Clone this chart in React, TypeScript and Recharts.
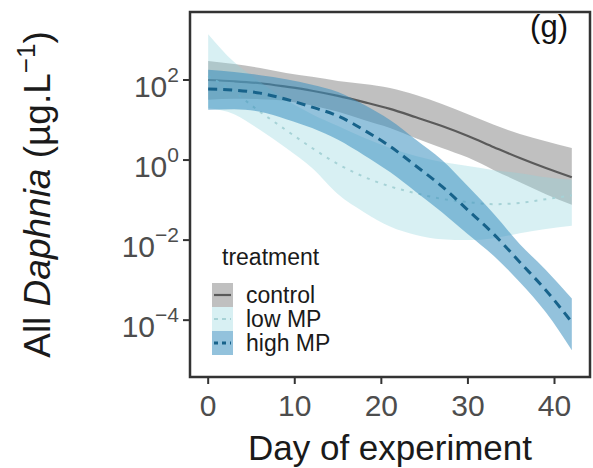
import React from 'react';
import { ComposedChart, Area, Line, XAxis, YAxis, ReferenceArea, Legend } from 'recharts';

const FONT = '"Liberation Sans", Arial, Helvetica, sans-serif';

// sampling days (every 3 days over the experiment)
const days = [0, 3, 6, 9, 12, 15, 18, 21, 24, 27, 30, 33, 36, 39, 42];

// fitted abundance (µg/L) with confidence band, per treatment
const controlFit = [100, 93, 83, 68, 54, 40, 28, 19, 11.7, 7.1, 4.0, 2.1, 1.12, 0.63, 0.37];
const controlHi = [300, 250, 200, 150, 120, 95, 79, 63, 42, 25, 14, 7.6, 4.5, 2.95, 2.0];
const controlLo = [32, 34, 33, 30, 23, 16, 10, 6.3, 3.5, 2.0, 1.15, 0.56, 0.28, 0.14, 0.076];

const lowFit = [125, 50, 16, 5.6, 2.0, 0.79, 0.38, 0.22, 0.148, 0.107, 0.089, 0.079, 0.085, 0.105, 0.132];
const lowHi = [1400, 280, 89, 32, 14, 7.1, 3.6, 2.0, 1.26, 0.89, 0.71, 0.56, 0.47, 0.37, 0.32];
const lowLo = [20, 14, 5.6, 2.0, 0.63, 0.14, 0.05, 0.022, 0.0135, 0.0105, 0.01, 0.0112, 0.0148, 0.019, 0.023];

const highFit = [60, 56, 47, 33, 21, 12.6, 5.6, 2.2, 0.71, 0.22, 0.056, 0.014, 0.0028, 0.00056, 0.000089];
const highHi = [180, 158, 132, 105, 76, 50, 24, 10, 3.2, 1.0, 0.22, 0.045, 0.0079, 0.0018, 0.00035];
const highLo = [18, 18.6, 16, 10.5, 6.3, 3.2, 1.32, 0.5, 0.16, 0.05, 0.014, 0.004, 0.00089, 0.000158, 0.0000178];

const xTicks = [0, 10, 20, 30, 40];
const yTicks = [1e-4, 1e-2, 1, 1e2];

const treatments = [
  { name: 'control', band: '#8c8c8c', bandOpacity: 0.55, line: '#5a5a5a', dash: undefined as string | undefined, width: 2.2 },
  { name: 'low MP', band: '#8fd3dc', bandOpacity: 0.35, line: '#a6d2d6', dash: '3 6', width: 2 },
  { name: 'high MP', band: '#3a8fbf', bandOpacity: 0.55, line: '#17628a', dash: '9 6', width: 3 },
];

const data = days.map((day, i) => ({
  day,
  control: controlFit[i],
  controlBand: [controlLo[i], controlHi[i]],
  low: lowFit[i],
  lowBand: [lowLo[i], lowHi[i]],
  high: highFit[i],
  highBand: [highLo[i], highHi[i]],
}));

const X_DOMAIN: [number, number] = [-2.1, 44.1];
const Y_DOMAIN: [number, number] = [3.8e-6, 5e3];

const PowTick = (props: any) => {
  const { x, y, payload } = props;
  const e = Math.round(Math.log10(payload.value));
  return (
    <text x={x - 2} y={y + 17} textAnchor="end" fill="#4d4d4d" fontSize={30} fontFamily={FONT}>
      10
      <tspan dy={-15} fontSize={21}>{e < 0 ? '\u2212' + -e : String(e)}</tspan>
    </text>
  );
};

const YTitle = (props: any) => {
  const vb = props.viewBox;
  const cy = vb.y + vb.height / 2;
  return (
    <text
      x={50}
      y={cy}
      transform={`rotate(-90, 50, ${cy})`}
      textAnchor="middle"
      fontSize={37}
      fill="#1a1a1a"
      fontFamily={FONT}
    >
      All <tspan fontStyle="italic">Daphnia</tspan> (µg.L
      <tspan dy={-15} fontSize={26}>{'\u22121'}</tspan>
      <tspan dy={15}>)</tspan>
    </text>
  );
};

const XTitle = (props: any) => {
  const vb = props.viewBox;
  return (
    <text x={vb.x + vb.width / 2} y={460} textAnchor="middle" fontSize={35} fill="#1a1a1a" fontFamily={FONT}>
      Day of experiment
    </text>
  );
};

const PanelTag = (props: any) => {
  const vb = props.viewBox;
  return (
    <text x={vb.x + vb.width - 22} y={vb.y + 25} textAnchor="end" fontSize={31} fill="#111" fontFamily={FONT}>
      (g)
    </text>
  );
};

const TreatmentLegend = () => (
  <svg width={240} height={120} style={{ overflow: 'visible' }}>
    <text x={22} y={25} fontSize={23} fill="#1a1a1a" fontFamily={FONT}>treatment</text>
    {treatments.map((t, i) => {
      const top = 43 + i * 24;
      return (
        <g key={t.name}>
          <rect x={12} y={top} width={21} height={24} fill={t.band} fillOpacity={t.bandOpacity} />
          <line x1={14} x2={31} y1={top + 12} y2={top + 12} stroke={t.line} strokeWidth={t.width} strokeDasharray={t.dash ? '4 4' : undefined} />
          <text x={46} y={top + 20} fontSize={23} fill="#1a1a1a" fontFamily={FONT}>{t.name}</text>
        </g>
      );
    })}
  </svg>
);

export default function App() {
  const keys = ['control', 'low', 'high'];
  return (
    <div style={{ position: 'absolute', left: 0, top: 0, background: '#fff' }}>
      <ComposedChart width={593} height={468} data={data} margin={{ top: 12, right: 3, bottom: 0, left: 0 }}>
        <XAxis
          dataKey="day"
          type="number"
          domain={X_DOMAIN}
          ticks={xTicks}
          allowDataOverflow
          axisLine={false}
          tickLine={{ stroke: '#333', strokeWidth: 2 }}
          tickSize={7}
          tickMargin={11}
          height={91}
          tick={{ fill: '#4d4d4d', fontSize: 30, fontFamily: FONT }}
          label={{ content: XTitle }}
        />
        <YAxis
          type="number"
          scale="log"
          domain={Y_DOMAIN}
          ticks={yTicks}
          allowDataOverflow
          axisLine={false}
          tickLine={{ stroke: '#333', strokeWidth: 2 }}
          tickSize={7}
          tickMargin={2}
          width={190}
          tick={PowTick}
          label={{ content: YTitle }}
        />
        {treatments.map((t, i) => [
          <Area
            key={t.name + '-band'}
            dataKey={keys[i] + 'Band'}
            type="monotone"
            stroke="none"
            fill={t.band}
            fillOpacity={t.bandOpacity}
            isAnimationActive={false}
            zIndex={100 + i * 2}
          />,
          <Line
            key={t.name + '-fit'}
            dataKey={keys[i]}
            type="monotone"
            stroke={t.line}
            strokeWidth={t.width}
            strokeDasharray={t.dash}
            dot={false}
            activeDot={false}
            isAnimationActive={false}
            zIndex={101 + i * 2}
          />,
        ])}
        <ReferenceArea
          x1={X_DOMAIN[0]}
          x2={X_DOMAIN[1]}
          y1={Y_DOMAIN[0]}
          y2={Y_DOMAIN[1]}
          fill="none"
          stroke="#333"
          strokeWidth={2.5}
          ifOverflow="visible"
          label={{ content: PanelTag }}
        />
        <Legend
          layout="vertical"
          align="center"
          verticalAlign="middle"
          content={TreatmentLegend}
          wrapperStyle={{ left: 200, top: 240, width: 240, height: 120 }}
        />
      </ComposedChart>
    </div>
  );
}
